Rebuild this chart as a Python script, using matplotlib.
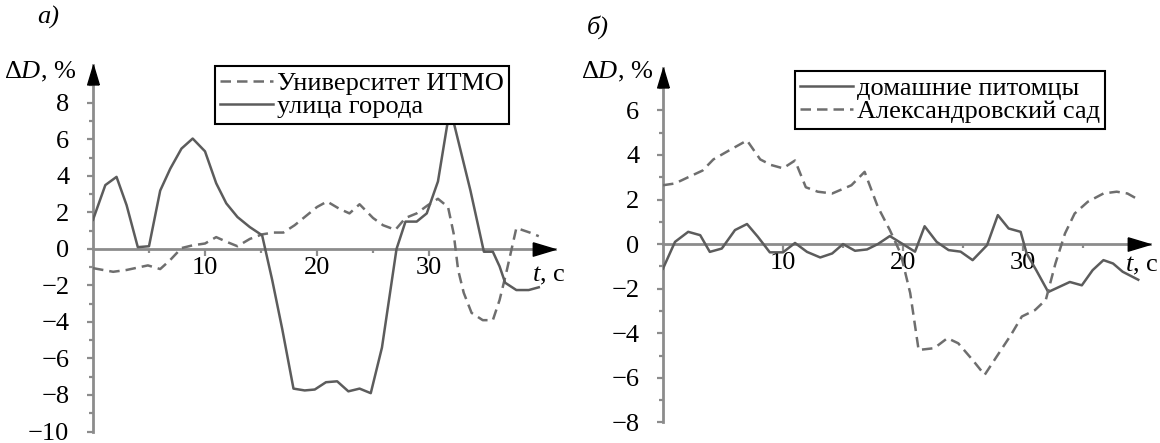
import matplotlib
matplotlib.use("Agg")
import matplotlib.pyplot as plt
from matplotlib.path import Path
from matplotlib.ticker import FixedLocator

plt.rcParams["font.family"] = ["Liberation Serif", "DejaVu Serif"]
plt.rcParams["mathtext.fontset"] = "custom"
plt.rcParams["mathtext.rm"] = "Liberation Serif"
plt.rcParams["mathtext.it"] = "Liberation Serif:italic"
plt.rcParams["axes.unicode_minus"] = True

# ---------------------------------------------------------------------------
# data
# ---------------------------------------------------------------------------
# (a) Университет ИТМО (dashed) / улица города (solid)
t_itmo = [0, 1.8, 3.0, 4.9, 6.0, 6.9, 7.9, 8.9, 10.0, 11.0, 11.9, 12.9, 14.0,
          15.1, 16.1, 17.0, 18.0, 18.9, 20.0, 20.9, 22.0, 22.9, 23.8, 25.0,
          25.9, 27.0, 27.9, 28.9, 29.9, 30.8, 31.7, 32.2, 32.6, 33.1, 33.8,
          34.8, 35.7, 36.3, 36.9, 37.8, 39.0, 39.8]
d_itmo = [-1.05, -1.25, -1.15, -0.9, -1.1, -0.6, 0.05, 0.2, 0.3, 0.65, 0.4,
          0.15, 0.55, 0.8, 0.9, 0.9, 1.3, 1.75, 2.3, 2.6, 2.2, 1.95, 2.45, 1.7,
          1.3, 1.05, 1.7, 1.95, 2.4, 2.75, 2.3, 0.85, -1.15, -2.4, -3.5, -3.9,
          -3.9, -2.8, -1.3, 1.15, 0.9, 0.7]

t_street = [0, 1.1, 2.1, 3.0, 4.0, 5.0, 6.0, 6.9, 7.9, 8.9, 10.0, 11.0, 11.9,
            12.9, 14.0, 15.1, 16.0, 16.9, 17.9, 18.9, 19.8, 20.8, 21.8, 22.8,
            23.8, 24.8, 25.8, 27.1, 27.9, 28.9, 29.8, 30.8, 31.6, 31.9, 32.3,
            33.7, 34.9, 35.7, 36.3, 36.8, 37.8, 38.9, 39.8]
d_street = [1.6, 3.5, 3.95, 2.4, 0.1, 0.15, 3.2, 4.4, 5.5, 6.05, 5.35, 3.6,
            2.5, 1.75, 1.2, 0.75, -1.7, -4.4, -7.65, -7.75, -7.7, -7.3, -7.25,
            -7.8, -7.65, -7.9, -5.4, 0.0, 1.5, 1.5, 1.95, 3.7, 6.7, 7.7, 6.7,
            3.2, -0.15, -0.15, -0.95, -1.85, -2.25, -2.25, -2.1]

# (б) домашние питомцы (solid) / Александровский сад (dashed)
t_pets = [0, 1.0, 2.1, 3.1, 3.9, 4.9, 6.0, 7.0, 7.9, 8.9, 10.0, 11.0, 12.0,
          13.1, 14.1, 15.0, 16.0, 17.0, 17.9, 18.9, 21.0, 21.8, 22.8, 23.8,
          24.8, 25.8, 27.0, 27.9, 28.8, 29.8, 30.3, 31.1, 32.1, 33.1, 33.9,
          34.9, 35.8, 36.7, 37.5, 38.3, 39.6]
d_pets = [-1.1, 0.1, 0.55, 0.4, -0.35, -0.2, 0.63, 0.9, 0.33, -0.37, -0.37,
          0.05, -0.35, -0.6, -0.42, 0.0, -0.3, -0.24, 0.0, 0.36, -0.34, 0.8,
          0.1, -0.27, -0.34, -0.72, -0.05, 1.3, 0.7, 0.55, -0.42, -1.17, -2.15,
          -1.9, -1.7, -1.85, -1.17, -0.72, -0.87, -1.24, -1.6]

t_garden = [0, 1.0, 2.1, 3.3, 4.2, 5.5, 7.0, 8.1, 9.0, 10.0, 11.0, 11.9, 12.9,
            14.1, 15.7, 16.8, 17.9, 18.9, 19.8, 20.6, 21.3, 22.6, 23.7, 24.6,
            25.8, 26.8, 27.8, 29.0, 29.9, 31.0, 31.9, 32.7, 33.5, 34.3, 35.4,
            36.7, 37.8, 38.7, 39.7]
d_garden = [2.64, 2.72, 3.0, 3.3, 3.8, 4.2, 4.65, 3.8, 3.55, 3.4, 3.75, 2.55,
            2.35, 2.27, 2.64, 3.24, 1.67, 0.63, -0.42, -2.2, -4.75, -4.67,
            -4.22, -4.45, -5.2, -5.87, -5.05, -4.07, -3.25, -2.96, -2.5, -0.87,
            0.48, 1.37, 1.9, 2.27, 2.35, 2.27, 1.97]

W, H = 1160, 443
FS = 19
AXIS_GRAY = "#8c8c8c"
LINE_GRAY = "#5c5c5c"
DASH_GRAY = "#6e6e6e"
DASH = (0, (4.2, 2.4))

# arrow heads whose tip sits at the marker origin
ARROW_X = Path([(-1, 0.3), (0, 0), (-1, -0.3), (-1, 0.3)])
ARROW_Y = Path([(0.3, -1), (0, 0), (-0.3, -1), (0.3, -1)])


def axes_px(fig, left, right, top, bottom):
    return fig.add_axes([left / W, 1 - bottom / H, (right - left) / W, (bottom - top) / H])


def style_axes(ax, xlim, ylim, ymajor, yminor, ypad):
    ax.set_xlim(*xlim)
    ax.set_ylim(*ylim)
    ax.set_facecolor("none")
    for s in ("top", "right"):
        ax.spines[s].set_visible(False)
    ax.spines["bottom"].set_position(("data", 0))
    for s in ("left", "bottom"):
        ax.spines[s].set_color(AXIS_GRAY)
        ax.spines[s].set_linewidth(2.0)
        ax.spines[s].set_zorder(1)
    ax.xaxis.set_major_locator(FixedLocator([10, 20, 30]))
    ax.xaxis.set_minor_locator(FixedLocator([5, 15, 25, 35]))
    ax.yaxis.set_major_locator(FixedLocator(ymajor))
    ax.yaxis.set_minor_locator(FixedLocator(yminor))
    ax.tick_params(axis="both", which="both", color=AXIS_GRAY, width=1.6,
                   direction="out", labelsize=FS)
    ax.tick_params(axis="y", which="major", length=4, pad=ypad)
    ax.tick_params(axis="y", which="minor", length=3)
    ax.tick_params(axis="x", which="major", length=5, pad=1)
    ax.tick_params(axis="x", which="minor", length=3)
    ax.plot(1, 0, marker=ARROW_X, color="k", markersize=32, clip_on=False,
            transform=ax.get_yaxis_transform(), zorder=3)
    ax.plot(0, 1, marker=ARROW_Y, color="k", markersize=28, clip_on=False,
            transform=ax.get_xaxis_transform(), zorder=3)


def add_legend(ax, handles, labels, x_px, y_px):
    leg = ax.legend(handles, labels, loc="upper left",
                    bbox_to_anchor=(x_px / W, 1 - y_px / H),
                    bbox_transform=fig.transFigure, fontsize=FS, frameon=True,
                    fancybox=False, edgecolor="k", framealpha=1,
                    borderaxespad=0, borderpad=0.2, labelspacing=0.0,
                    handlelength=2.0, handletextpad=0.15)
    leg.get_frame().set_linewidth(1.5)
    leg.set_zorder(6)
    return leg


fig = plt.figure(figsize=(W / 100, H / 100), dpi=100)

# ---------------- panel a ----------------
ax1 = axes_px(fig, 93, 555, 65, 431.5)
style_axes(ax1, (0, 41.25), (-10, 10.08), list(range(-10, 9, 2)),
           [v for v in range(-9, 11) if v % 2], 13)
l_itmo, = ax1.plot(t_itmo, d_itmo, color=DASH_GRAY, lw=1.8, ls=DASH)
l_street, = ax1.plot(t_street, d_street, color=LINE_GRAY, lw=1.8)
add_legend(ax1, [l_itmo, l_street], ["Университет ИТМО", "улица города"], 215, 66)
fig.text(48 / W, 1 - 17 / H, "а)", fontsize=FS, style="italic",
         ha="center", va="center")
fig.text(40 / W, 1 - 72 / H, r"$\Delta D$, %", fontsize=FS, ha="center", va="center")
fig.text(549 / W, 1 - 276 / H, r"$t$, с", fontsize=FS, ha="center", va="center")

# ---------------- panel б ----------------
ax2 = axes_px(fig, 663, 1150, 68, 422.4)
style_axes(ax2, (0, 40.58), (-8, 7.9), list(range(-8, 7, 2)),
           [v for v in range(-7, 8) if v % 2], 13)
l_pets, = ax2.plot(t_pets, d_pets, color=LINE_GRAY, lw=1.8)
l_garden, = ax2.plot(t_garden, d_garden, color=DASH_GRAY, lw=1.8, ls=DASH)
add_legend(ax2, [l_pets, l_garden], ["домашние питомцы", "Александровский сад"], 795, 71)
fig.text(598 / W, 1 - 27 / H, "б)", fontsize=FS, style="italic",
         ha="center", va="center")
fig.text(617 / W, 1 - 72 / H, r"$\Delta D$, %", fontsize=FS, ha="center", va="center")
fig.text(1142 / W, 1 - 266 / H, r"$t$, с", fontsize=FS, ha="center", va="center")

fig.savefig("out.png", dpi=100)
